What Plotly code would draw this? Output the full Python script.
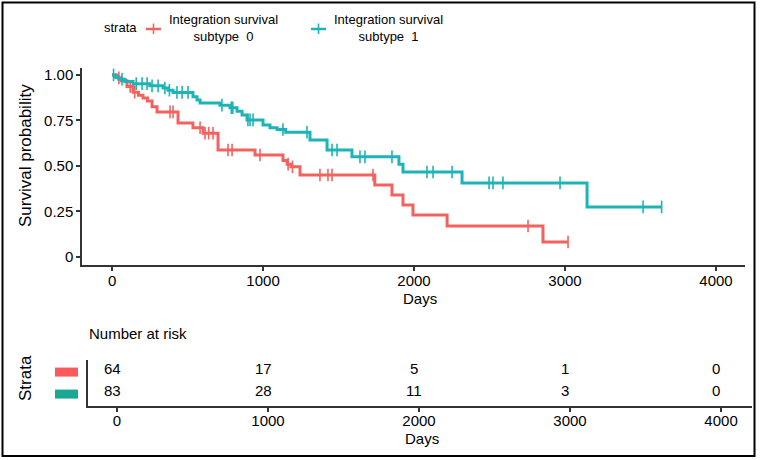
import numpy as np
import plotly.graph_objects as go

# ---------------- data ----------------
strata_names = ["Integration survival<br>subtype  0", "Integration survival<br>subtype  1"]

red_times = [0, 30, 62, 99, 139, 175, 205, 235, 265, 298, 437, 536, 603, 702, 947,
             1132, 1160, 1185, 1245, 1740, 1854, 1927, 1993, 2219, 2854]
red_surv = [1.0, 0.984, 0.968, 0.937, 0.905, 0.889, 0.873, 0.857, 0.825, 0.797, 0.736,
            0.71, 0.68, 0.588, 0.56, 0.53, 0.51, 0.495, 0.45, 0.396, 0.34, 0.286,
            0.23, 0.17, 0.082]
red_end = 3020
red_censor = [45, 120, 150, 384, 404, 583, 616, 640, 669, 768, 795, 980, 1166, 1195,
              1377, 1430, 1457, 1728, 2755, 3020]

teal_times = [0, 20, 45, 86, 139, 250, 338, 371, 404, 536, 563, 583, 715, 781, 828,
              861, 894, 1000, 1046, 1093, 1150, 1311, 1424, 1589, 1900, 1927, 2318, 3146]
teal_surv = [1.0, 0.988, 0.976, 0.964, 0.952, 0.94, 0.928, 0.916, 0.904, 0.88, 0.862,
             0.846, 0.834, 0.82, 0.80, 0.78, 0.753, 0.725, 0.71, 0.70, 0.685, 0.643,
             0.588, 0.55, 0.51, 0.467, 0.407, 0.275]
teal_end = 3640
teal_censor = [10, 66, 160, 199, 232, 265, 305, 350, 380, 430, 464, 503, 728, 790, 800,
               900, 914, 934, 1132, 1291, 1457, 1490, 1642, 1675, 1854, 2086, 2126,
               2252, 2497, 2523, 2589, 2967, 3517, 3640]

x_ticks = [0, 1000, 2000, 3000, 4000]
y_ticks = [0, 0.25, 0.5, 0.75, 1.0]
y_ticktext = ["0", "0.25", "0.50", "0.75", "1.00"]

risk_times = [0, 1000, 2000, 3000, 4000]
risk_0 = [64, 17, 5, 1, 0]
risk_1 = [83, 28, 11, 3, 0]
risk_rows = [1, 0]

# ---------------- style ----------------
W, H = 760, 460
RED = "#F4625F"
TEAL = "#1DB4B8"
RED_BOX = "#FC5A5A"
TEAL_BOX = "#1AA894"
FONT = "Liberation Sans, Arial, sans-serif"
AX = "#333333"


def px(x):
    return x / W


def py(y):
    return 1 - y / H


def step_lookup(times, surv, t):
    idx = np.searchsorted(np.array(times), np.array(t), side="right") - 1
    return [surv[i] for i in idx]


fig = go.Figure()

for times, surv, end, cens, col in [
    (red_times, red_surv, red_end, red_censor, RED),
    (teal_times, teal_surv, teal_end, teal_censor, TEAL),
]:
    fig.add_trace(go.Scatter(
        x=list(times) + [end], y=list(surv) + [surv[-1]],
        mode="lines", line=dict(color=col, width=3, shape="hv"),
        xaxis="x", yaxis="y", showlegend=False, hoverinfo="skip"))
    fig.add_trace(go.Scatter(
        x=cens, y=step_lookup(times, surv, cens), mode="markers",
        marker=dict(symbol="line-ns-open", size=9, color=col,
                    line=dict(color=col, width=1.6)),
        xaxis="x", yaxis="y", showlegend=False, hoverinfo="skip"))

# invisible trace so the risk-table axes are drawn
fig.add_trace(go.Scatter(
    x=risk_times, y=[risk_rows[0]] * len(risk_times), mode="markers",
    marker=dict(opacity=0), xaxis="x2", yaxis="y2",
    showlegend=False, hoverinfo="skip"))

axis_common = dict(showgrid=False, zeroline=False, showline=True, linecolor=AX,
                   linewidth=1.5, automargin=False,
                   tickfont=dict(family=FONT, size=15, color="black"))

fig.update_layout(
    width=W, height=H,
    margin=dict(l=0, r=0, t=0, b=0),
    paper_bgcolor="white", plot_bgcolor="white",
    showlegend=False,
    xaxis=dict(domain=[px(82), px(745)], range=[-199, 4192], anchor="y",
               ticks="outside", ticklen=4, tickcolor=AX, tickwidth=1.5,
               ticklabelstandoff=-3, tickvals=x_ticks, **axis_common),
    yaxis=dict(domain=[py(265), py(68)], range=[-0.044, 1.038], anchor="x",
               ticks="outside", ticklen=4, tickcolor=AX, tickwidth=1.5,
               tickvals=y_ticks, ticktext=y_ticktext, **axis_common),
    xaxis2=dict(domain=[px(88), px(752)], range=[-192, 4205], anchor="y2",
                ticks="outside", ticklen=4, tickcolor=AX, tickwidth=1.5,
                ticklabelstandoff=-4, tickvals=x_ticks, **axis_common),
    yaxis2=dict(domain=[py(406), py(360)], range=[-0.727, 1.364], anchor="x2",
                ticks="", showticklabels=False, **axis_common),
)

ann_font = dict(family=FONT, size=15, color="black")
leg_font = dict(family=FONT, size=13, color="black")
annotations = [
    dict(text="Survival probability", x=px(25), y=py(156), textangle=-90,
         font=dict(family=FONT, size=17, color="black")),
    dict(text="Days", x=px(420), y=py(298), font=ann_font),
    dict(text="Days", x=px(422), y=py(438), font=ann_font),
    dict(text="Number at risk", x=px(87), y=py(333), xanchor="left", font=ann_font),
    dict(text="Strata", x=px(25), y=py(378), textangle=-90,
         font=dict(family=FONT, size=17, color="black")),
    dict(text="strata", x=px(120), y=py(28), font=leg_font),
    dict(text=strata_names[0], x=px(223), y=py(28), align="center", font=leg_font),
    dict(text=strata_names[1], x=px(388), y=py(28), align="center", font=leg_font),
]
for a in annotations:
    a.update(xref="paper", yref="paper", showarrow=False)
    a.setdefault("xanchor", "center")
    a.setdefault("yanchor", "middle")

# risk table numbers: main-plot x scale, risk-table rows
for vals, row in zip([risk_0, risk_1], risk_rows):
    for t, v in zip(risk_times, vals):
        annotations.append(dict(text=str(v), x=t, y=row, xref="x", yref="y2",
                                showarrow=False, xanchor="center", yanchor="middle",
                                font=ann_font))
fig.update_layout(annotations=annotations)

shapes = [
    # outer frame
    dict(type="rect", xref="paper", yref="paper", x0=px(2.5), x1=px(754.5),
         y0=py(456), y1=py(2.5), line=dict(color="black", width=2)),
    # legend keys
    dict(type="line", xref="paper", yref="paper", x0=px(146), x1=px(161),
         y0=py(29), y1=py(29), line=dict(color=RED, width=2.5)),
    dict(type="line", xref="paper", yref="paper", x0=px(153.5), x1=px(153.5),
         y0=py(23.5), y1=py(34), line=dict(color=RED, width=1.6)),
    dict(type="line", xref="paper", yref="paper", x0=px(311), x1=px(326),
         y0=py(29), y1=py(29), line=dict(color=TEAL, width=2.5)),
    dict(type="line", xref="paper", yref="paper", x0=px(318.5), x1=px(318.5),
         y0=py(23.5), y1=py(34), line=dict(color=TEAL, width=1.6)),
]
for row, col in zip(risk_rows, [RED_BOX, TEAL_BOX]):
    shapes.append(dict(type="rect", xref="paper", yref="y2", x0=px(55), x1=px(78),
                       y0=row - 0.39, y1=row + 0.02, fillcolor=col, line=dict(width=0)))
fig.update_layout(shapes=shapes)

fig.write_html("out.html", config={"displayModeBar": False},
               post_script="document.body.style.margin='0';document.body.style.overflow='hidden';")
